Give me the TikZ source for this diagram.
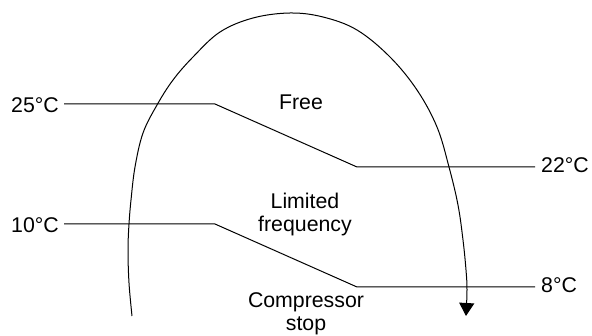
\documentclass[tikz,border=0pt]{standalone}
\usepackage{fontspec}
\setmainfont{Liberation Sans}
\usetikzlibrary{arrows.meta}
\begin{document}
\begin{tikzpicture}[x=1pt,y=-1pt,
  lbl/.style={inner sep=0pt,font=\fontsize{21.3}{23.5}\selectfont},
  zone/.style={inner sep=0pt,align=center,font=\fontsize{21.3}{23}\selectfont},
  thr/.style={line width=1pt},
  loop/.style={line width=1pt,-{Triangle[width=15pt,length=13pt]}}]
\useasboundingbox (0,0) rectangle (592,336);
% threshold labels
\node[lbl,anchor=base east] (t25) at (59,112.3) {25°C};
\node[lbl,anchor=base west] (t22) at (541,172.7) {22°C};
\node[lbl,anchor=base east] (t10) at (59,232.7) {10°C};
\node[lbl,anchor=base west] (t8) at (541,292.3) {8°C};
% threshold lines
\coordinate (a1) at (64,104);
\coordinate (a2) at (215,104);
\coordinate (a3) at (357,167);
\coordinate (a4) at (535,167);
\coordinate (b1) at (64,224);
\coordinate (b2) at (215,224);
\coordinate (b3) at (357,287);
\coordinate (b4) at (535,287);
\draw[thr] (a1) -- (a2) -- (a3) -- (a4);
\draw[thr] (b1) -- (b2) -- (b3) -- (b4);
% zone labels (base anchor = baseline of the last line)
\node[zone,anchor=base] (free) at (301,109.3) {Free};
\node[zone,anchor=base] (lim) at (305,232) {Limited\\frequency};
\node[zone,anchor=base] (stop) at (306,331) {Compressor\\stop};
% hysteresis loop
\draw[loop] plot[smooth,tension=0.6] coordinates {
 (132,316) (129,283) (128,250) (129,224) (131,200) (135,167) (143,133)
 (157,105) (173,80) (193,57) (220,32) (253,18) (290,13) (323,17)
 (357,30) (390,57) (417,90) (437,127) (449,167) (458,205) (463,240)
 (466,270) (467,290) (466,316)};
\end{tikzpicture}
\end{document}
